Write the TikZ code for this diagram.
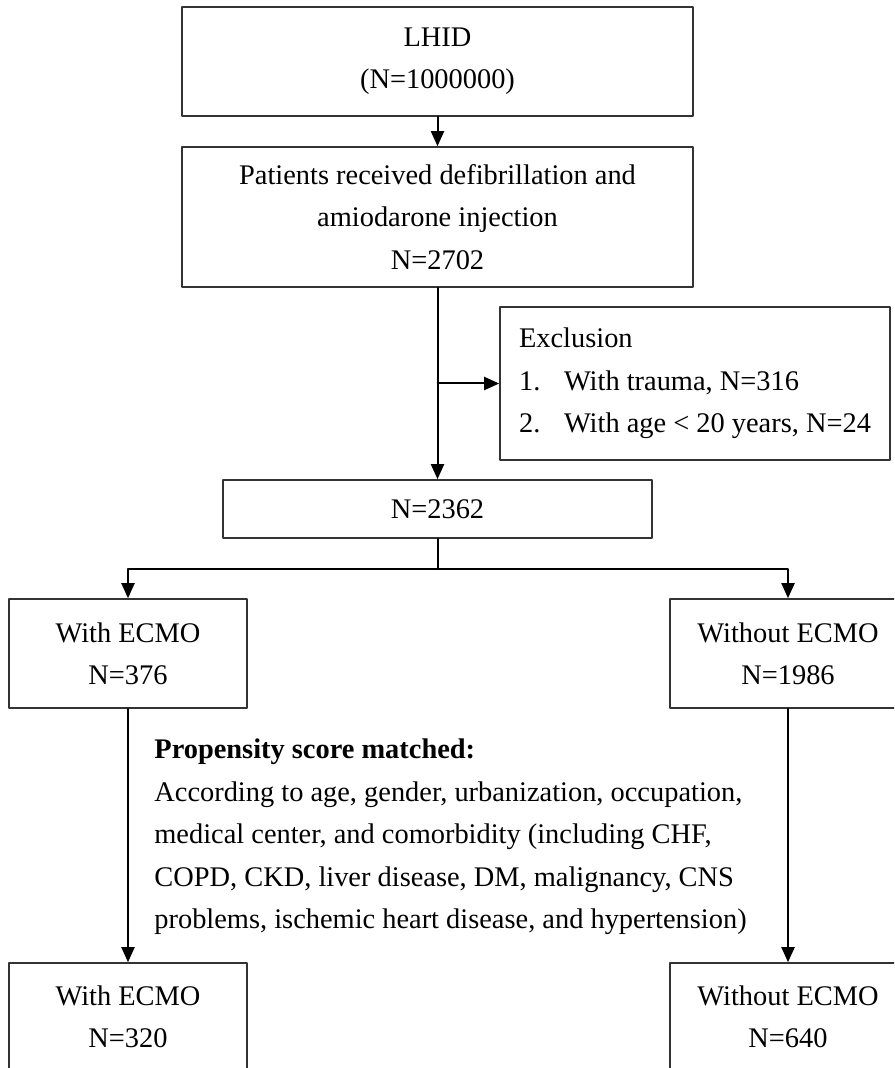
\documentclass[tikz,border=0pt]{standalone}
\usepackage{fontspec}
\setmainfont{Liberation Serif}
\usetikzlibrary{arrows.meta}
\tikzset{
  every picture/.style={line join=round, line cap=round},
  flowbox/.style={draw=black!80, line width=0.8pt, align=center, inner sep=0pt,
    font=\fontsize{14.2pt}{21.2pt}\selectfont},
  flowtext/.style={align=left, inner sep=0pt, font=\fontsize{14.2pt}{21.2pt}\selectfont},
  flowarrow/.style={-{Triangle[length=7.5pt,width=6.5pt]}, line width=1pt},
}

\begin{document}
\begin{tikzpicture}[x=0.5pt,y=-0.5pt]
\clip(0,0)rectangle(894,1068);
\node[flowbox,minimum width=255.5pt,minimum height=54.5pt](lhid)at(437.5,61.5){LHID\\(N=1000000)};
\node[flowbox,minimum width=255.5pt,minimum height=70pt](pat)at(437.5,217){Patients received defibrillation and\\amiodarone injection\\N=2702};
\node[flowbox,align=left,minimum width=195pt,minimum height=76.5pt](excl)at(695,383.5){Exclusion\\
\makebox[22.5pt][l]{1.}With trauma, N=316\\
\makebox[22.5pt][l]{2.}With age < 20 years, N=24};
\node[flowbox,minimum width=214.5pt,minimum height=29pt](n2362)at(437.5,509){N=2362};
\node[flowbox,minimum width=119pt,minimum height=54.5pt](ecmo)at(128,653.5){With ECMO\\N=376};
\node[flowbox,minimum width=118pt,minimum height=54.5pt](noecmo)at(788,653.5){Without ECMO\\N=1986};
\node[flowtext,anchor=west](psm)at(154,837){\textbf{Propensity score matched:}\\
According to age, gender, urbanization, occupation,\\
medical center, and comorbidity (including CHF,\\
COPD, CKD, liver disease, DM, malignancy, CNS\\
problems, ischemic heart disease, and hypertension)};
\node[flowbox,minimum width=119pt,minimum height=54pt](ecmo2)at(128,1017){With ECMO\\N=320};
\node[flowbox,minimum width=118pt,minimum height=54pt](noecmo2)at(788,1017){Without ECMO\\N=640};

% connectors
\coordinate(branch)at(pat.south|-excl.west);
\coordinate(split)at(n2362.south|-0,569);
\draw[flowarrow](lhid)--(pat);
\draw[flowarrow](pat)--(n2362);
\draw[flowarrow](branch)--(excl);
\draw[line width=1pt](n2362)--(split);
\draw[flowarrow](split)-|(ecmo);
\draw[flowarrow](split)-|(noecmo);
\draw[flowarrow](ecmo)--(ecmo2);
\draw[flowarrow](noecmo)--(noecmo2);
\end{tikzpicture}
\end{document}
